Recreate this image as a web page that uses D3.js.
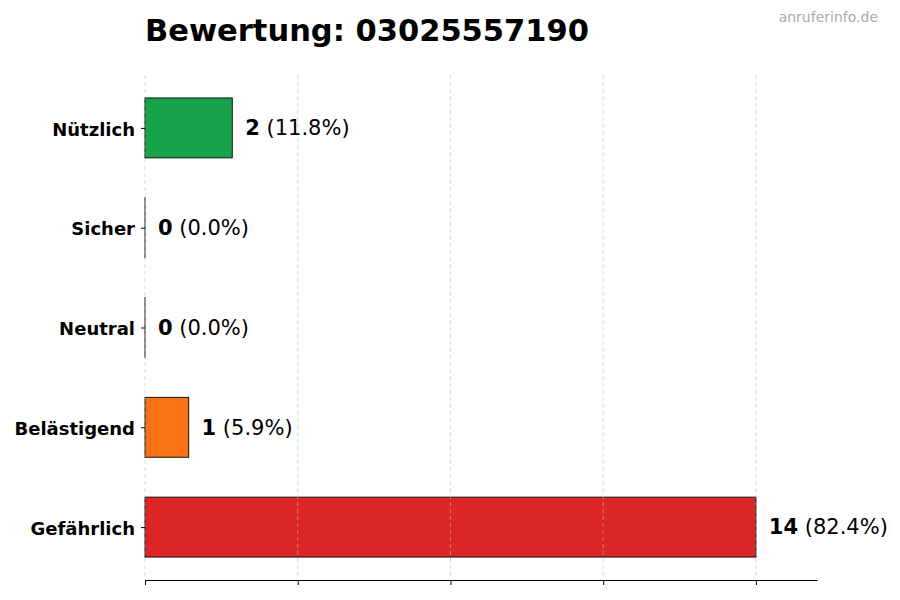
<!DOCTYPE html>
<html>
<head>
<meta charset="utf-8">
<script src="https://cdn.jsdelivr.net/npm/d3@7"></script>
<style>
  body { margin: 0; background: #fff; }
  text { font-family: "DejaVu Sans", sans-serif; }
</style>
</head>
<body>
<div id="vis"></div>
<script>
// categories from bottom to top, as in the original
var categories = ["Gefährlich", "Belästigend", "Neutral", "Sicher", "Nützlich"];
var counts = [14, 1, 0, 0, 2];
var percents = ["82.4%", "5.9%", "0.0%", "0.0%", "11.8%"];
var colors = ["#dc2626", "#f97316", "#9ca3af", "#3b82f6", "#16a34a"];
var xTicks = [0, 3.5, 7, 10.5, 14];
var title = "Bewertung: 03025557190";
var source = "anruferinfo.de";

var width = 900;
var height = 600;
var margin = { top: 75, left: 145, bottom: 20, right: 83 };

var svg = d3.select('#vis').append('svg')
  .attr('width', width)
  .attr('height', height);

var maxVal = d3.max(counts);

var x = d3.scaleLinear()
  .domain([0, maxVal * 1.1])
  .range([margin.left, width - margin.right]);

// bar positions 0..4, bar height 0.6, 5% padding like matplotlib
var y = d3.scaleLinear()
  .domain([-0.53, categories.length - 1 + 0.53])
  .range([height - margin.bottom, margin.top]);

var barH = y(0) - y(0.6);

// bars
svg.append('g')
  .attr('class', 'bars')
  .selectAll('rect')
  .data(counts)
  .enter().append('rect')
  .attr('x', x(0))
  .attr('y', function (d, i) { return y(i + 0.3); })
  .attr('width', function (d) { return Math.max(x(d) - x(0), 0.01); })
  .attr('height', barH)
  .style('fill', function (d, i) { return colors[i]; })
  .style('stroke', '#111')
  .style('stroke-width', 1);

// dashed grid over the bars
svg.append('g')
  .attr('class', 'grid')
  .selectAll('line')
  .data(xTicks)
  .enter().append('line')
  .attr('x1', function (d) { return x(d); })
  .attr('x2', function (d) { return x(d); })
  .attr('y1', y.range()[1])
  .attr('y2', y.range()[0])
  .style('stroke', '#bbb')
  .style('stroke-opacity', 0.7)
  .style('stroke-dasharray', '4,3')
  .style('stroke-width', 0.8);

// bottom axis: ticks only, no labels
var xAxis = svg.append('g')
  .attr('transform', 'translate(0,' + y.range()[0] + ')')
  .call(d3.axisBottom(x).tickValues(xTicks).tickSize(5).tickSizeOuter(0).tickFormat(''));
xAxis.select('.domain').style('stroke', '#000').style('stroke-width', 1);
xAxis.selectAll('.tick line').style('stroke', '#000');

// left axis: labels and tick marks, no spine
var yAxis = svg.append('g')
  .attr('transform', 'translate(' + x(0) + ',0)')
  .call(d3.axisLeft(y)
    .tickValues(d3.range(categories.length))
    .tickSize(4)
    .tickPadding(6)
    .tickFormat(function (d) { return categories[d]; }));
yAxis.select('.domain').remove();
yAxis.selectAll('.tick line').style('stroke', '#000');
yAxis.selectAll('.tick text')
  .attr('dy', '0.4em')
  .style('font-family', '"DejaVu Sans", sans-serif')
  .style('font-size', '18px')
  .style('font-weight', 'bold')
  .style('fill', '#000');

// value labels
var labels = svg.append('g')
  .attr('class', 'labels')
  .selectAll('text')
  .data(counts)
  .enter().append('text')
  .attr('x', function (d) { return x(d + maxVal * 1.1 * 0.02) - 0.5; })
  .attr('y', function (d, i) { return y(i); })
  .attr('dy', '0.35em')
  .style('font-size', '21px')
  .style('fill', '#000');
labels.append('tspan')
  .style('font-weight', 'bold')
  .text(function (d) { return d; });
labels.append('tspan')
  .text(function (d, i) { return ' (' + percents[i] + ')'; });

// title
svg.append('text')
  .attr('x', margin.left)
  .attr('y', 41)
  .style('font-size', '30.5px')
  .style('font-weight', 'bold')
  .style('fill', '#000')
  .text(title);

// watermark
svg.append('text')
  .attr('x', 878)
  .attr('y', 22)
  .attr('text-anchor', 'end')
  .style('font-size', '14px')
  .style('fill', '#aaa')
  .text(source);
</script>
</body>
</html>
